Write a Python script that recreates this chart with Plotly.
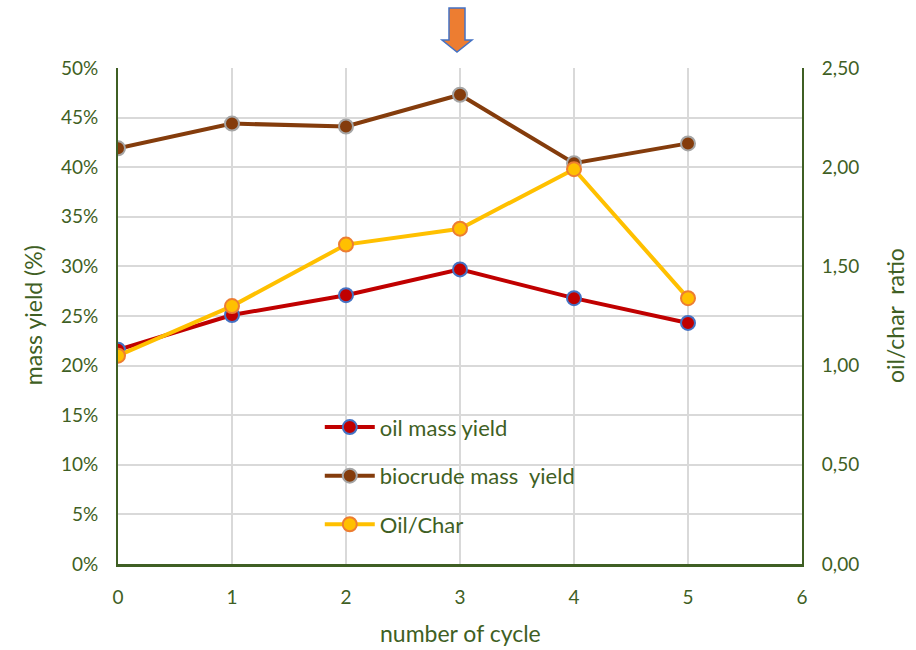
import plotly.graph_objects as go

# Cycle number and measured values
cycles = [0, 1, 2, 3, 4, 5]
oil_mass_yield = [21.6, 25.1, 27.1, 29.7, 26.8, 24.3]          # %
biocrude_mass_yield = [41.9, 44.4, 44.1, 47.3, 40.4, 42.4]     # %
oil_char_ratio = [1.05, 1.30, 1.61, 1.69, 1.99, 1.34]          # ratio

left_ticks = [0, 5, 10, 15, 20, 25, 30, 35, 40, 45, 50]
left_labels = [f"{v}%" for v in left_ticks]
right_ticks = [0, 0.5, 1.0, 1.5, 2.0, 2.5]
right_labels = ["0,00", "0,50", "1,00", "1,50", "2,00", "2,50"]
highlight_cycle = 3

TEXT = "#3f5f24"
AXIS = "#3f5f24"
GRID = "#d9d9d9"
FONT = "Lato, 'Open Sans', sans-serif"

fig = go.Figure()

fig.add_trace(go.Scatter(
    x=cycles, y=oil_mass_yield, name="oil mass yield", mode="lines+markers",
    legendgroup="oil",
    line=dict(color="#c00000", width=4),
    marker=dict(size=14, color="#c00000", line=dict(color="#4472c4", width=2)),
))
fig.add_trace(go.Scatter(
    x=cycles, y=biocrude_mass_yield, name="biocrude mass  yield", mode="lines+markers",
    legendgroup="biocrude",
    line=dict(color="#843c0c", width=4),
    marker=dict(size=14, color="#843c0c", line=dict(color="#a5a5a5", width=2)),
))
fig.add_trace(go.Scatter(
    x=cycles, y=oil_char_ratio, name="Oil/Char", mode="lines+markers", yaxis="y2",
    legendgroup="ratio",
    line=dict(color="#ffc000", width=4),
    marker=dict(size=14, color="#ffc000", line=dict(color="#ed7d31", width=2)),
))

# Down arrow above the highlighted cycle
fig.add_shape(
    type="path", xref="x", yref="paper", xsizemode="pixel", ysizemode="pixel",
    xanchor=highlight_cycle, yanchor=1.0,
    path="M -11,60 L 5,60 L 5,28 L 12,28 L -3,16 L -18,28 L -11,28 Z",
    fillcolor="#ed7d31", line=dict(color="#4472c4", width=1.5),
)

# Axis titles
title_font = dict(family=FONT, size=23, color=TEXT)
fig.add_annotation(text="number of cycle", xref="paper", yref="paper", x=0.501, y=-0.139,
                   showarrow=False, font=title_font, xanchor="center", yanchor="middle")
fig.add_annotation(text="mass yield (%)", xref="paper", yref="paper", x=-0.124, y=0.502,
                   showarrow=False, font=title_font, textangle=-90,
                   xanchor="center", yanchor="middle")
fig.add_annotation(text="oil/char  ratio", xref="paper", yref="paper", x=1.136, y=0.5,
                   showarrow=False, font=title_font, textangle=-90,
                   xanchor="center", yanchor="middle")

fig.update_layout(
    width=916, height=650,
    margin=dict(l=118, r=114, t=68, b=86),
    paper_bgcolor="white", plot_bgcolor="white",
    font=dict(family=FONT, color=TEXT, size=19),
    showlegend=True,
    legend=dict(
        x=0.295, y=0.318, xanchor="left", yanchor="top",
        bgcolor="rgba(0,0,0,0)", font=dict(size=22, color=TEXT),
        tracegroupgap=17, itemwidth=50, traceorder="grouped",
    ),
    xaxis=dict(
        range=[0, 6], tickvals=list(range(7)), showgrid=True, gridcolor=GRID, gridwidth=2,
        showline=True, linecolor=AXIS, linewidth=3, zeroline=False, automargin=False,
        ticks="", ticklabelstandoff=14, tickfont=dict(size=19, color=TEXT),
    ),
    yaxis=dict(
        range=[0, 50], tickvals=left_ticks, ticktext=left_labels, showgrid=True,
        gridcolor=GRID, gridwidth=2, automargin=False,
        showline=True, linecolor=AXIS, linewidth=2, zeroline=False,
        ticks="", ticklabelstandoff=14, tickfont=dict(size=19, color=TEXT),
    ),
    yaxis2=dict(
        range=[0, 2.5], tickvals=right_ticks, ticktext=right_labels, overlaying="y", side="right",
        showgrid=False, showline=True, linecolor=AXIS, linewidth=2, zeroline=False,
        automargin=False,
        ticks="", ticklabelstandoff=14, tickfont=dict(size=19, color=TEXT),
    ),
)

fig.write_html("out.html")
